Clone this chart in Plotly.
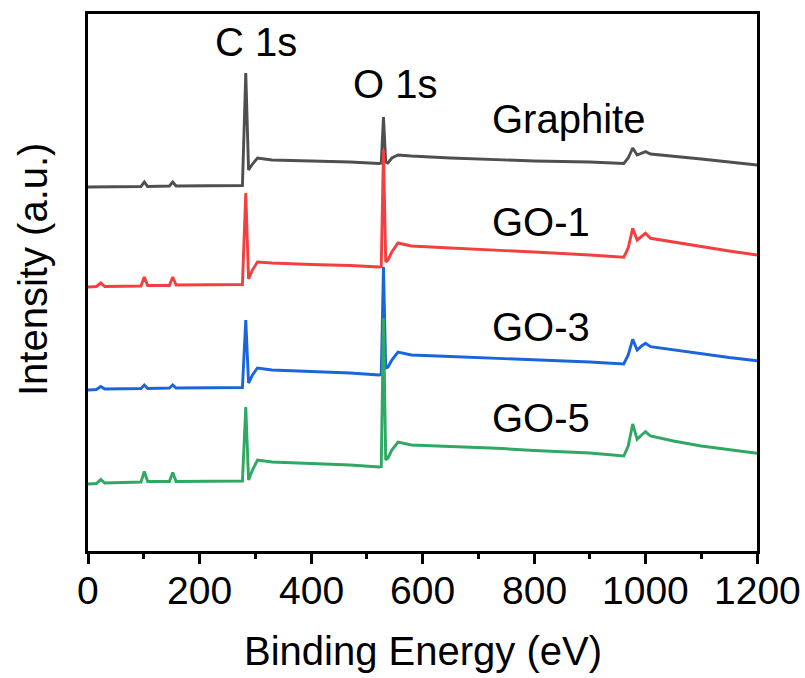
import plotly.graph_objects as go

# Binding energy grid (eV) shared by the four survey spectra
energy_ev = [0, 15, 23, 30, 95, 101, 107, 146, 152, 158, 277, 283, 288, 295, 304,
             330, 400, 470, 522, 526, 530, 534, 538, 545, 556, 580, 650, 734, 800,
             900, 961, 969, 977, 985, 993, 1000, 1009, 1050, 1100, 1150, 1200]

# Offset intensities (a.u.) for each sample
graphite = [364, 364, 364, 364, 364.5, 369, 364.5, 365, 369, 365, 365.5, 478, 381, 387, 393,
            391, 390, 389, 387.5, 388, 434, 389, 388, 393, 396, 395, 393, 391, 390,
            389, 387.5, 393, 403, 396, 398, 399.3, 397, 395, 392, 389, 386]
go_1 = [264, 264.5, 268, 264.5, 265, 274, 265.5, 265.5, 274, 266, 266.5, 358, 272, 281, 289,
        288, 286.5, 285.5, 284, 284.5, 401, 289, 291, 299, 308, 305, 303, 301, 299,
        296, 293.7, 303, 322.7, 311, 315, 317.7, 312.7, 309, 304, 300, 296]
go_3 = [161, 161.5, 164.5, 162, 162.5, 166, 162.5, 163, 166, 163, 163.5, 231, 168, 176, 183,
        181, 179.5, 178, 176, 176.5, 284, 183, 184, 191, 199, 196, 194.5, 192.7, 191,
        189, 187, 196, 211.7, 201, 205, 207.7, 204.3, 201, 197, 193.5, 190.3]
go_5 = [67, 67.5, 71.5, 68, 69, 79.5, 69.5, 69.5, 78.5, 69.5, 70, 144, 71, 81, 91,
        89, 87.5, 86, 84, 84.5, 233, 91, 93, 101, 109, 106, 104.5, 102.7, 100.5,
        98, 95, 105, 127, 111.7, 116, 119.3, 115, 110, 105, 101, 97.7]

sample_names = ["Graphite", "GO-1", "GO-3", "GO-5"]
sample_series = [graphite, go_1, go_3, go_5]
sample_colors = ["#4f4f4f", "#f23f3f", "#1a64dc", "#2ea862"]

# Bottom axis tick values and their labels
tick_values = [0, 200, 400, 600, 800, 1000, 1200]
tick_labels = ["0", "200", "400", "600", "800", "1000", "1200"]

# Label anchors: (x in eV, y in a.u.)
sample_label_x = 721.6
sample_label_y = [432.5, 329.5, 224.5, 133.5]
peak_names = ["C 1s", "O 1s"]
peak_label_x = [302, 551]
peak_label_y = [509.5, 467]

FONT = "Liberation Sans, Arial, sans-serif"
FS_TEXT = 40
FS_TICK = 39
LW = 3


def text_note(text, x, y, size, xref="x", yref="y", xanchor="center", angle=0):
    return dict(x=x, y=y, xref=xref, yref=yref, text=text, showarrow=False,
                xanchor=xanchor, yanchor="middle", textangle=angle,
                font=dict(size=size, color="black", family=FONT))


fig = go.Figure()
for name, ys, col in zip(sample_names, sample_series, sample_colors):
    fig.add_trace(go.Scatter(x=energy_ev, y=ys, mode="lines", name=name,
                             line=dict(color=col, width=2.9), showlegend=False))

annotations = []
for name, y in zip(sample_names, sample_label_y):
    annotations.append(text_note(name, sample_label_x, y, FS_TEXT, xanchor="left"))
for name, x, y in zip(peak_names, peak_label_x, peak_label_y):
    annotations.append(text_note(name, x, y, FS_TEXT))
# Tick labels sit just under the outside ticks
for v, lab in zip(tick_values, tick_labels):
    annotations.append(text_note(lab, v, (551 - 590) / 537, FS_TICK, yref="paper"))
# Axis titles
annotations.append(text_note("Intensity (a.u.)", (33 - 88) / 669, (551 - 270) / 537,
                             FS_TEXT, xref="paper", yref="paper", angle=-90))
annotations.append(text_note("Binding Energy (eV)", 0.5, (551 - 650.5) / 537,
                             FS_TEXT, xref="paper", yref="paper"))

fig.update_layout(
    width=805, height=678,
    margin=dict(l=88, r=48, t=14, b=127),
    paper_bgcolor="white", plot_bgcolor="white",
    font=dict(family=FONT, size=FS_TICK, color="black"),
    annotations=annotations,
    xaxis=dict(range=[0, 1200], tickvals=tick_values, ticks="outside", ticklen=10,
               tickwidth=LW, tickcolor="black", showline=True, linewidth=LW,
               linecolor="black", mirror=True, showgrid=False, zeroline=False,
               showticklabels=False,
               minor=dict(dtick=100, tick0=0, ticks="outside", ticklen=5,
                          tickwidth=LW, tickcolor="black", showgrid=False)),
    yaxis=dict(range=[0, 537], showticklabels=False, ticks="", showline=True,
               linewidth=LW, linecolor="black", mirror=True, showgrid=False,
               zeroline=False),
)

fig.write_html("out.html")
